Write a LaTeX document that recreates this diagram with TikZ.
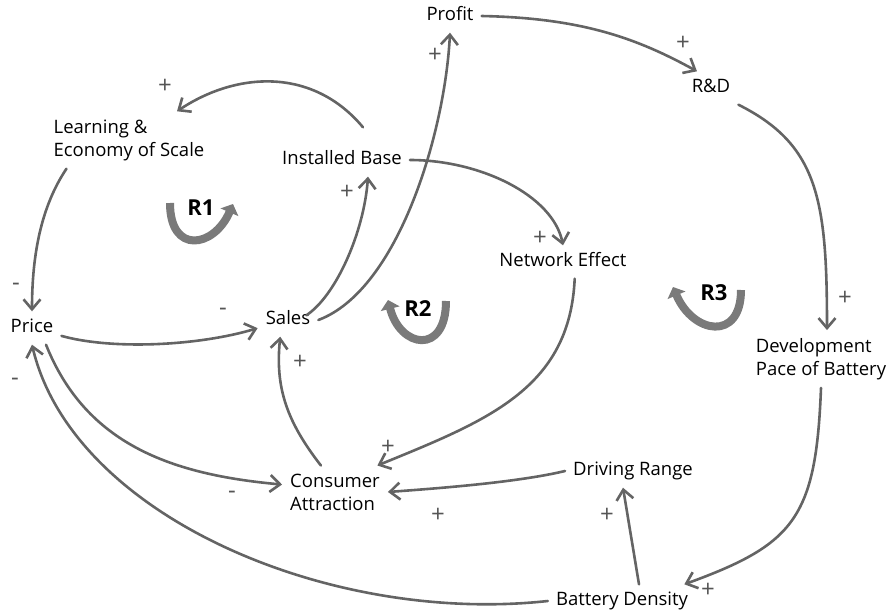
\documentclass[tikz,border=0pt]{standalone}
\usepackage{fontspec}
\setmainfont{Open Sans}
\usepackage{tikz}
\usetikzlibrary{arrows.meta}
\definecolor{linkgray}{RGB}{100,100,100}
\definecolor{loopgray}{RGB}{122,122,122}
\definecolor{signgray}{RGB}{85,85,85}
\tikzstyle{var} = [inner sep=8pt, font=\fontsize{18.5}{23}\selectfont,
    text height=13pt, text depth=4pt]
\tikzstyle{varml} = [inner sep=8pt, font=\fontsize{18.5}{23}\selectfont, align=left]
\tikzstyle{link} = [line width=2.6pt, draw=linkgray, line cap=round,
    -{Straight Barb[length=10pt,width=17pt]}]
\tikzstyle{sign} = [inner sep=0pt, font=\fontsize{24}{26}\selectfont, text=signgray]
\tikzstyle{loopar} = [line width=8pt, draw=loopgray,
    -{Triangle[length=9pt,width=19pt]}]
\tikzstyle{looplabel} = [inner sep=0pt, font=\fontsize{22}{24}\selectfont\bfseries]

\begin{document}
\begin{tikzpicture}[x=1pt, y=-1pt]
\useasboundingbox (0,0) rectangle (892,611);

% ── Variables ────
\node[var] (profit) at (450,16) {Profit};
\node[var] (rnd) at (711,88) {R\&D};
\node[varml] (learning) at (129,140) {Learning \&\\Economy of Scale};
\node[var] (installed) at (342,160) {Installed Base};
\node[var] (network) at (563,262) {Network Effect};
\node[var] (price) at (32,328) {Price};
\node[var] (sales) at (288,320) {Sales};
\node[varml] (devpace) at (821,359) {Development\\Pace of Battery};
\node[varml] (consumer) at (335,492) {Consumer\\Attraction};
\node[var] (driving) at (633,471) {Driving Range};
\node[var] (battery) at (622,601) {Battery Density};

% ── Causal links ────
\draw[link] (profit.east) .. controls +(100,2) and +(-60,-33) .. (rnd.130);
\draw[link] (rnd.south east) .. controls +(80,40) and +(0,-130) .. ([xshift=6]devpace.north);
\draw[link] (devpace.south) .. controls +(-5,130) and +(110,-40) .. (battery.15);
\draw[link] ([xshift=17]battery.north) -- ([xshift=-10]driving.south);
\draw[link] (driving.west) .. controls +(-50,12) and +(40,-3) .. (consumer.east);
\draw[link] (battery.west) .. controls +(-220,24) and +(40,170) .. (price.south);
\draw[link] (price.-15) .. controls +(50,14) and +(-60,18) .. (sales.195);
\draw[link] (price.-50) .. controls +(40,100) and +(-110,-10) .. (consumer.172);
\draw[link] (consumer.118) .. controls +(-35,-45) and +(-5,50) .. (sales.-115);
\draw[link] (network.-55) .. controls +(-5,110) and +(110,-45) .. (consumer.32);
\draw[link] (installed.east) .. controls +(70,0) and +(-10,-50) .. (network.north);
\draw[link] ([shift={(-12,12)}]sales.north east) .. controls +(30,-20) and +(-4,55) .. ([xshift=26]installed.south);
\draw[link] (sales.east) .. controls +(80,-30) and +(-5,100) .. (profit.south);
\draw[link] ([shift={(21,-16)}]installed.north) .. controls +(-50,-60) and +(60,-40) .. ([xshift=48]learning.north);
\draw[link] ([xshift=21]learning.south west) .. controls +(-20,30) and +(0,-70) .. (price.north);

% ── Polarities ────
\node[sign] (sgn1) at (683,43) {+};
\node[sign] (sgn2) at (845,298) {+};
\node[sign] (sgn3) at (708,590) {+};
\node[sign] (sgn4) at (607,515) {+};
\node[sign] (sgn5) at (438,515) {+};
\node[sign] (sgn6) at (388,447) {+};
\node[sign] (sgn7) at (540,238) {+};
\node[sign] (sgn8) at (347,192) {+};
\node[sign] (sgn9) at (435,55) {+};
\node[sign] (sgn10) at (165,86) {+};
\node[sign] (sgn11) at (300,362) {+};
\node[sign] (sgn12) at (16,287) {-};
\node[sign] (sgn13) at (223,312) {-};
\node[sign] (sgn14) at (232,495) {-};
\node[sign] (sgn15) at (15,382) {-};

% ── Loop markers ────
\draw[loopar] (170,203) .. controls (170,255) and (214,248) .. (233,204);
\draw[loopar] (446,301) .. controls (446,356) and (400,348) .. (388,300);
\draw[loopar] (741,290) .. controls (741,342) and (693,334) .. (673,287);
\node[looplabel] (r1) at (201,208) {R1};
\node[looplabel] (r2) at (418,309) {R2};
\node[looplabel] (r3) at (714,293) {R3};

\end{tikzpicture}
\end{document}
